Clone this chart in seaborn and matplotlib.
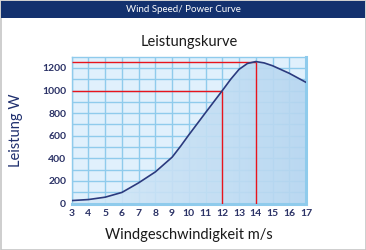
import matplotlib.pyplot as plt
import matplotlib.patches as mpatches
from matplotlib.colors import LinearSegmentedColormap
import numpy as np
import pandas as pd
import seaborn as sns

wind = [3, 4, 5, 6, 7, 8, 9, 9.5, 10, 11, 12, 12.5, 13, 13.5, 14, 14.5, 15, 16, 17]
power = [26, 35, 56, 98, 183, 280, 410, 506, 608, 805, 1000, 1100, 1188, 1240, 1257, 1245, 1220, 1153, 1073]
x_ticks = list(range(3, 18))
y_ticks = [0, 200, 400, 600, 800, 1000, 1200]
mark_x = [12, 14]
mark_y = [1000, 1257]

df = pd.DataFrame({'wind': wind, 'power': power})

sns.set_style('white')
plt.rcParams['font.family'] = ['Lato', 'DejaVu Sans']

fig = plt.figure(figsize=(3.66, 2.5), dpi=100)
fig.patch.set_facecolor('white')
fig.patches.append(mpatches.Rectangle((0.5 / 366, 0.5 / 250), 365 / 366, 249 / 250,
                                      transform=fig.transFigure, fill=False,
                                      edgecolor='#c6c6c6', linewidth=1.2))
fig.patches.append(mpatches.Rectangle((1 / 366, 1 - 17.5 / 250), 364 / 366, 16.5 / 250,
                                      transform=fig.transFigure, facecolor='#13316e',
                                      edgecolor='none'))
fig.text(0.5, 1 - 9.5 / 250, 'Wind Speed/ Power Curve', color='white', fontsize=7,
         ha='center', va='center')

ax = fig.add_axes([71.7 / 366, 1 - 203.5 / 250, (306 - 71.7) / 366, (203.5 - 56.7) / 250])
ax.set_facecolor('#e0f0fc')

# Gitter
ax.set_xticks(x_ticks)
ax.set_yticks(y_ticks)
ax.set_yticks(range(100, 1300, 200), minor=True)
ax.grid(True, which='both', color='#8fcbec', linewidth=1)
ax.set_axisbelow(True)

# Fläche unter der Kurve mit Verlauf
poly = ax.fill_between(df['wind'], df['power'], 0, color='none')
grad = np.linspace(0, 1, 256).reshape(1, -1)
img = ax.imshow(grad, extent=[3, 17, 0, 1300], aspect='auto', origin='lower',
                cmap=LinearSegmentedColormap.from_list('g', ['#d6e9f8', '#b6d6f0']),
                alpha=0.9, zorder=1)
img.set_clip_path(poly.get_paths()[0], transform=ax.transData)

# rote Hilfslinien
ax.hlines(mark_y, 3, mark_x, color='#e8141c', linewidth=1, zorder=3)
ax.vlines(mark_x, 0, mark_y, color='#e8141c', linewidth=1, zorder=3)

sns.lineplot(data=df, x='wind', y='power', color='#2b3a7e', linewidth=1.2, ax=ax, zorder=4)

ax.set_xlim(3, 17)
ax.set_ylim(0, 1300)

for s in ['top', 'left']:
    ax.spines[s].set_color('#8fcbec')
    ax.spines[s].set_linewidth(1)
for s in ['bottom', 'right']:
    ax.spines[s].set_color('#8fcbec')
    ax.spines[s].set_linewidth(2.2)

ax.tick_params(axis='both', which='both', length=0, labelsize=7.5, labelcolor='#2b3266', pad=4)
for lab in ax.get_xticklabels() + ax.get_yticklabels():
    lab.set_fontweight('bold')

ax.set_title('Leistungskurve', fontsize=10.5, color='#1a1a1a', pad=8)
ax.set_xlabel('Windgeschwindigkeit m/s', fontsize=10.5, color='#1a1a1a', labelpad=7)
ax.set_ylabel('Leistung W', fontsize=10.5, color='#1f2f6e', labelpad=14)

fig.savefig('out.png', dpi=100)
